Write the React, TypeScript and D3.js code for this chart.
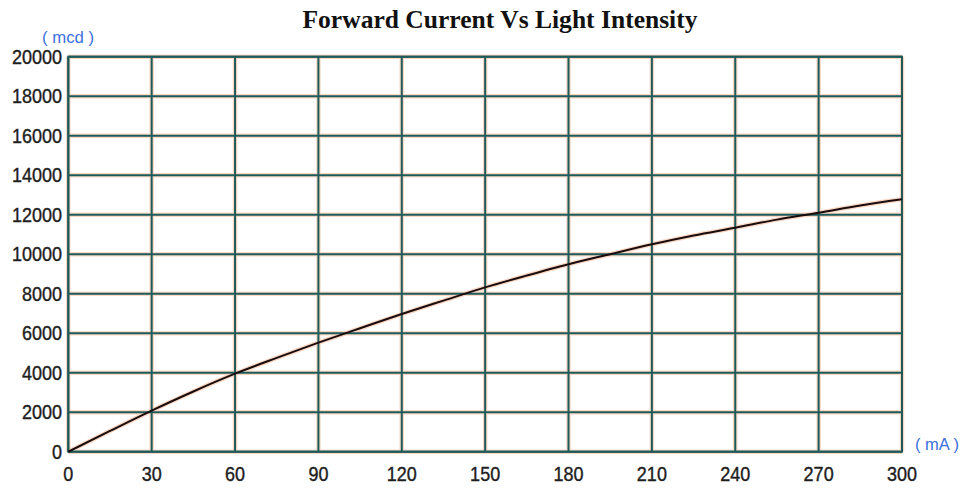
import React from "react";
import * as d3 from "d3";

const currentMA = [0, 15, 30, 45, 60, 75, 90, 105, 120, 135, 150, 165, 180, 195, 210, 225, 240, 255, 270, 285, 300];
const intensityMcd = [0, 1050, 2080, 3050, 3950, 4750, 5520, 6250, 6970, 7650, 8320, 8920, 9490, 10000, 10500, 10950, 11340, 11750, 12100, 12470, 12780];
const xTicks = [0, 30, 60, 90, 120, 150, 180, 210, 240, 270, 300];
const yTicks = [0, 2000, 4000, 6000, 8000, 10000, 12000, 14000, 16000, 18000, 20000];
const title = "Forward Current Vs Light Intensity";
const yUnit = "( mcd )";
const xUnit = "( mA )";

export default function App() {
  const W = 962, H = 490;
  const left = 68.3, right = 902, top = 56.7, bottom = 451.7;
  const x = d3.scaleLinear().domain([0, 300]).range([left, right]);
  const y = d3.scaleLinear().domain([0, 20000]).range([bottom, top]);
  const pts = currentMA.map((c, i) => [c, intensityMcd[i]] as [number, number]);
  const line = d3.line<[number, number]>().x(d => x(d[0])).y(d => y(d[1])).curve(d3.curveMonotoneX);
  const path = line(pts) || "";
  const grid = "#1d5b5b";
  const halo = "#f6b896";
  const tickFont = "'Liberation Sans', Arial, sans-serif";
  return (
    <svg width={W} height={H} style={{ position: "absolute", left: 0, top: 0, background: "#fff" }}>
      <text x={500} y={28} textAnchor="middle" fontFamily="'Liberation Serif', 'Times New Roman', serif" fontWeight="bold" fontSize={25} fill="#111" textLength={395} lengthAdjust="spacingAndGlyphs">{title}</text>
      <g stroke={halo} strokeWidth={4.5} opacity={0.55} fill="none">
        {xTicks.map(t => <line key={"hx" + t} x1={x(t)} x2={x(t)} y1={top} y2={bottom} />)}
        {yTicks.map(t => <line key={"hy" + t} x1={left} x2={right} y1={y(t)} y2={y(t)} />)}
        <path d={path} />
      </g>
      <g stroke={grid} strokeWidth={2} fill="none">
        {xTicks.map(t => <line key={"gx" + t} x1={x(t)} x2={x(t)} y1={top} y2={bottom} />)}
        {yTicks.map(t => <line key={"gy" + t} x1={left} x2={right} y1={y(t)} y2={y(t)} />)}
        <rect x={left} y={top} width={right - left} height={bottom - top} />
      </g>
      <path d={path} fill="none" stroke="#1a0c0c" strokeWidth={2} />
      <g fontFamily={tickFont} fontSize={18} fill="#1e1e1e" stroke="#1e1e1e" strokeWidth={0.35}>
        {yTicks.map(t => (
          <text key={"ly" + t} x={62} y={y(t)} dy="0.36em" textAnchor="end" transform={`translate(0,${y(t)}) scale(1,1.12) translate(0,${-y(t)})`}>{t}</text>
        ))}
        {xTicks.map(t => (
          <text key={"lx" + t} x={x(t)} y={481} textAnchor="middle" transform={`translate(0,481) scale(1,1.12) translate(0,-481)`}>{t}</text>
        ))}
      </g>
      <text x={68} y={43} textAnchor="middle" fontFamily={tickFont} fontSize={16} fill="#3b6fe0" textLength={52} lengthAdjust="spacingAndGlyphs">{yUnit}</text>
      <text x={937} y={450} textAnchor="middle" fontFamily={tickFont} fontSize={16} fill="#3b6fe0" textLength={44} lengthAdjust="spacingAndGlyphs">{xUnit}</text>
    </svg>
  );
}
